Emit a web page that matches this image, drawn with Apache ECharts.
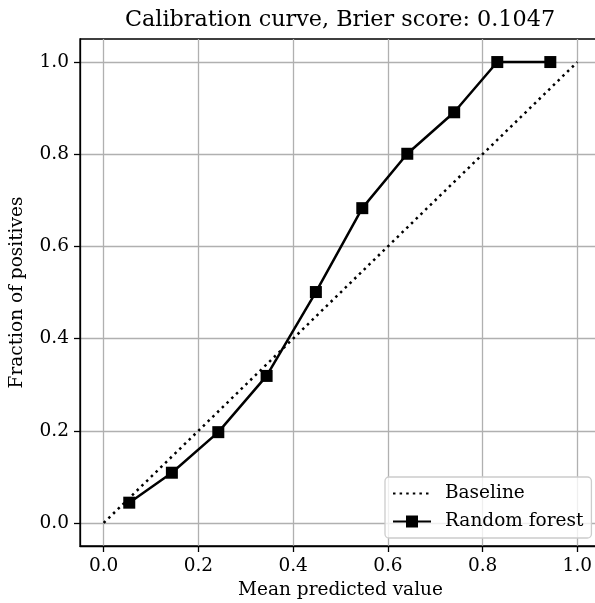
<!DOCTYPE html>
<html>
<head>
<meta charset="utf-8">
<script src="https://cdn.jsdelivr.net/npm/echarts@6/dist/echarts.min.js"></script>
<style>
html,body{margin:0;padding:0;background:#fff;}
#chart{width:595px;height:603px;}
</style>
</head>
<body>
<div id="chart"></div>
<script>
const titleText = 'Calibration curve, Brier score: 0.1047';
const seriesNames = ['Baseline', 'Random forest'];
const baselineX = [0, 1];
const baselineY = [0, 1];
const meanPredicted = [0.054, 0.144, 0.242, 0.344, 0.448, 0.546, 0.641, 0.740, 0.831, 0.943];
const fractionPositives = [0.044, 0.109, 0.197, 0.319, 0.501, 0.683, 0.801, 0.891, 1.0, 1.0];
const tickValues = [0, 0.2, 0.4, 0.6, 0.8, 1.0];

const FONT = 'DejaVu Serif';
const fs = 18.5;

const chart = echarts.init(document.getElementById('chart'), null, {renderer: 'canvas'});

const axisCommon = {
  type: 'value',
  min: -0.05,
  max: 1.05,
  splitNumber: 5,
  nameLocation: 'middle',
  nameTextStyle: {fontFamily: FONT, fontSize: fs, color: '#000'},
  axisLine: {show: true, onZero: false, lineStyle: {color: '#000', width: 1.3}},
  axisTick: {show: true, inside: false, length: 6, customValues: tickValues, lineStyle: {color: '#000', width: 1.3}},
  axisLabel: {fontFamily: FONT, fontSize: fs, color: '#000', customValues: tickValues,
    formatter: v => Number(v).toFixed(1)},
  splitLine: {show: true, lineStyle: {color: '#b0b0b0', width: 1.3}}
};

chart.setOption({
  animation: false,
  backgroundColor: '#fff',
  title: {
    text: titleText,
    left: 335, textAlign: 'center', top: 4,
    textStyle: {fontFamily: FONT, fontSize: 22.3, fontWeight: 'normal', color: '#000'}
  },
  grid: {left: 80, top: 39, width: 521, height: 507, show: true, borderColor: '#000', borderWidth: 1.3,
    containLabel: false, outerBoundsMode: 'none'},
  xAxis: Object.assign({}, axisCommon, {
    name: 'Mean predicted value', nameGap: 35,
    axisLabel: Object.assign({}, axisCommon.axisLabel, {margin: 11})
  }),
  yAxis: Object.assign({}, axisCommon, {
    name: 'Fraction of positives', nameGap: 53, nameRotate: 90,
    axisLabel: Object.assign({}, axisCommon.axisLabel, {margin: 11})
  }),
  legend: {
    orient: 'vertical',
    left: 385, top: 477,
    padding: [7, 8, 7, 7],
    itemGap: 9,
    itemWidth: 38, itemHeight: 15,
    backgroundColor: 'rgba(255,255,255,0.8)',
    borderColor: '#cccccc', borderWidth: 1.3, borderRadius: 4,
    textStyle: {fontFamily: FONT, fontSize: fs, lineHeight: 18, color: '#000', padding: [0, 0, 0, 9]},
    data: [
      {name: seriesNames[0], itemStyle: {opacity: 0}},
      {name: seriesNames[1]}
    ]
  },
  series: [
    {
      name: seriesNames[0], type: 'line',
      data: baselineX.map((x, i) => [x, baselineY[i]]),
      showSymbol: false, symbol: 'none',
      lineStyle: {color: '#000', width: 2.5, type: [2.5, 4.1], cap: 'butt'},
      itemStyle: {color: '#000'},
      z: 3
    },
    {
      name: seriesNames[1], type: 'line',
      data: meanPredicted.map((x, i) => [x, fractionPositives[i]]),
      symbol: 'rect', symbolSize: 12,
      lineStyle: {color: '#000', width: 2.5},
      itemStyle: {color: '#000'},
      z: 4
    }
  ]
});
</script>
</body>
</html>
